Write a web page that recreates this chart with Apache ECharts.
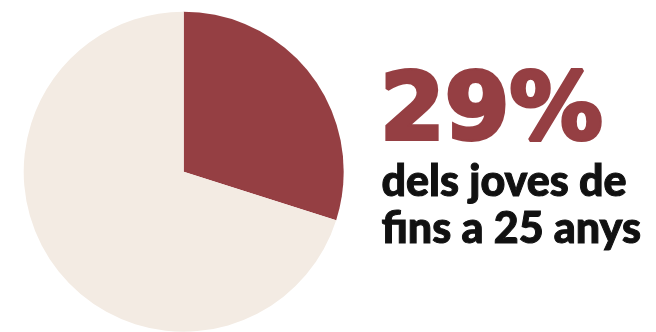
<!DOCTYPE html>
<html><head><meta charset="utf-8">
<script src="https://cdn.jsdelivr.net/npm/echarts@6/dist/echarts.min.js"></script>
<style>html,body{margin:0;padding:0;background:#fff}#c{width:656px;height:332px}</style>
</head><body><div id="c"></div>
<script>
const categories = ['Joves de fins a 25 anys', 'Resta'];
const values = [29.9, 70.1];
const bigLabel = '29%';
const subLines = ['dels joves de', 'fins a 25 anys'];
const colors = ['#953f43', '#f3ebe3'];

const chart = echarts.init(document.getElementById('c'), null, {renderer: 'canvas'});
chart.setOption({
  animation: false,
  series: [{
    type: 'pie',
    center: [183.7, 171.7],
    radius: [0, 160],
    startAngle: 90,
    clockwise: true,
    label: {show: false},
    labelLine: {show: false},
    silent: true,
    itemStyle: {borderWidth: 0},
    data: categories.map((c, i) => ({name: c, value: values[i], itemStyle: {color: colors[i]}}))
  }],
  graphic: [
    {type: 'text', left: 378, top: 66, style: {text: bigLabel, font: 'bold 93px "DejaVu Sans"', fill: colors[0], stroke: colors[0], lineWidth: 4}},
    {type: 'text', left: 381, top: 159, style: {text: subLines.join('\n'), font: '900 43px Lato', fill: '#111', stroke: '#111', lineWidth: 1, lineHeight: 47}}
  ]
});
</script></body></html>
